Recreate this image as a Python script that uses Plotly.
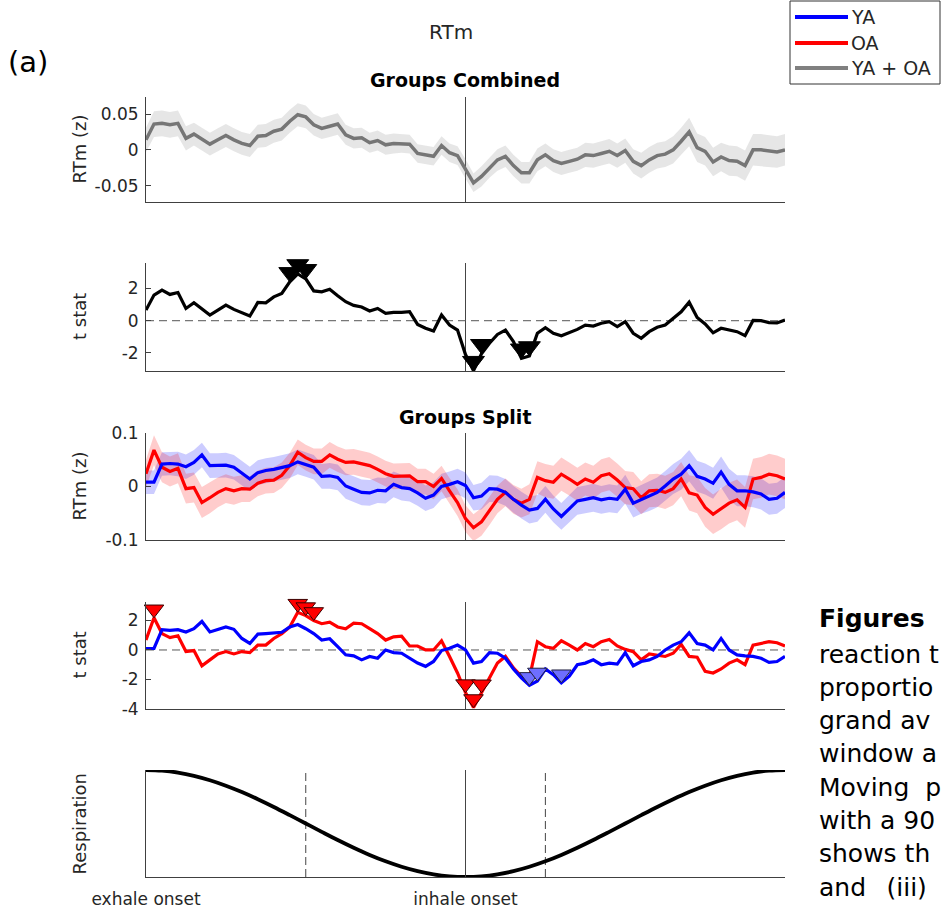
import plotly.graph_objects as go

# ---------------- data ----------------
phase_idx = list(range(81))          # 0 = exhale onset, 40 = inhale onset, 80 = next exhale onset
tick_vals = [0, 40, 80]
tick_text = ["exhale onset", "inhale onset", ""]

comb_mean = [0.014, 0.036, 0.037, 0.035, 0.037, 0.016, 0.022, 0.015, 0.008, 0.014,
             0.020, 0.014, 0.009, 0.006, 0.019, 0.020, 0.026, 0.029, 0.040, 0.049,
             0.046, 0.035, 0.030, 0.033, 0.036, 0.021, 0.016, 0.017, 0.010, 0.013,
             0.007, 0.009, 0.009, 0.008, -0.005, -0.007, -0.009, 0.006, -0.004, -0.008,
             -0.026, -0.046, -0.037, -0.025, -0.014, -0.009, -0.022, -0.032, -0.032, -0.014,
             -0.007, -0.015, -0.019, -0.016, -0.013, -0.007, -0.008, -0.005, -0.002, -0.008,
             -0.001, -0.016, -0.022, -0.014, -0.008, -0.006, 0.000, 0.012, 0.025, 0.003,
             -0.002, -0.017, -0.010, -0.015, -0.016, -0.022, 0.000, 0.000, -0.002, -0.003,
             0.000]
comb_ci = [0.017, 0.018, 0.018, 0.018, 0.018, 0.017, 0.016, 0.016, 0.016, 0.016,
           0.016, 0.016, 0.016, 0.016, 0.016, 0.016, 0.016, 0.016, 0.016, 0.016,
           0.016, 0.015, 0.015, 0.015, 0.015, 0.014, 0.014, 0.014, 0.014, 0.014,
           0.014, 0.014, 0.013, 0.013, 0.013, 0.013, 0.013, 0.013, 0.013, 0.013,
           0.013, 0.013, 0.014, 0.014, 0.015, 0.015, 0.015, 0.015, 0.015, 0.016,
           0.016, 0.016, 0.016, 0.016, 0.016, 0.017, 0.017, 0.017, 0.017, 0.017,
           0.017, 0.017, 0.018, 0.018, 0.018, 0.018, 0.019, 0.019, 0.020, 0.020,
           0.020, 0.020, 0.020, 0.021, 0.021, 0.021, 0.022, 0.022, 0.022, 0.022,
           0.022]
comb_t = [0.66, 1.59, 1.90, 1.63, 1.75, 0.76, 1.11, 0.72, 0.35, 0.66,
          0.97, 0.70, 0.49, 0.29, 1.13, 1.11, 1.48, 1.69, 2.41, 2.90,
          2.60, 1.85, 1.79, 1.95, 1.55, 1.18, 0.95, 0.85, 0.60, 0.76,
          0.45, 0.52, 0.52, 0.56, -0.23, -0.47, -0.64, 0.35, -0.27, -0.58,
          -2.10, -3.10, -2.05, -1.40, -0.85, -0.58, -1.30, -2.33, -2.19, -0.78,
          -0.43, -0.78, -0.93, -0.72, -0.54, -0.27, -0.33, -0.16, -0.06, -0.37,
          -0.06, -0.78, -1.09, -0.68, -0.41, -0.27, 0.15, 0.55, 1.15, 0.20,
          -0.20, -0.75, -0.47, -0.58, -0.68, -0.93, 0.02, 0.00, -0.12, -0.14,
          0.04]
comb_sig = [18, 19, 20, 41, 42, 47, 48]

ya_mean = [0.008, 0.008, 0.042, 0.043, 0.042, 0.037, 0.045, 0.059, 0.039, 0.039,
           0.040, 0.036, 0.025, 0.014, 0.026, 0.030, 0.032, 0.036, 0.039, 0.046,
           0.041, 0.036, 0.019, 0.020, 0.017, 0.001, -0.005, -0.011, -0.012, -0.007,
           -0.008, 0.004, -0.002, -0.004, -0.012, -0.022, -0.016, 0.000, 0.004, 0.009,
           0.002, -0.021, -0.018, -0.004, -0.005, -0.011, -0.024, -0.035, -0.044, -0.041,
           -0.024, -0.042, -0.056, -0.041, -0.027, -0.024, -0.021, -0.025, -0.022, -0.024,
           -0.005, -0.031, -0.024, -0.018, -0.011, 0.001, 0.014, 0.023, 0.039, 0.019,
           0.014, 0.006, 0.027, 0.004, -0.008, -0.008, -0.010, -0.014, -0.024, -0.022,
           -0.011]
ya_ci = [0.022, 0.022, 0.022, 0.022, 0.023, 0.023, 0.023, 0.023, 0.023, 0.023,
         0.023, 0.023, 0.023, 0.023, 0.023, 0.023, 0.023, 0.023, 0.023, 0.023,
         0.023, 0.023, 0.023, 0.024, 0.024, 0.024, 0.024, 0.024, 0.024, 0.024,
         0.024, 0.024, 0.024, 0.024, 0.024, 0.024, 0.024, 0.024, 0.024, 0.024,
         0.024, 0.024, 0.025, 0.025, 0.025, 0.025, 0.025, 0.025, 0.025, 0.025,
         0.025, 0.025, 0.025, 0.026, 0.026, 0.026, 0.026, 0.026, 0.026, 0.026,
         0.027, 0.027, 0.027, 0.028, 0.028, 0.028, 0.028, 0.029, 0.029, 0.029,
         0.029, 0.029, 0.029, 0.029, 0.029, 0.029, 0.029, 0.029, 0.029, 0.029,
         0.029]
ya_t = [0.10, 0.10, 1.38, 1.33, 1.38, 1.22, 1.44, 1.93, 1.22, 1.38,
        1.56, 1.40, 0.78, 0.44, 1.07, 1.11, 1.16, 1.20, 1.56, 1.72,
        1.44, 1.11, 0.67, 0.76, 0.22, -0.33, -0.40, -0.67, -0.44, -0.56,
        0.00, -0.18, -0.22, -0.56, -0.89, -1.11, -0.78, -0.04, 0.11, 0.33,
        0.00, -0.89, -0.78, -0.18, -0.22, -0.56, -1.29, -1.89, -2.40, -2.10,
        -1.29, -1.67, -2.22, -1.78, -1.00, -0.89, -0.67, -1.00, -0.89, -0.96,
        -0.18, -1.07, -0.78, -0.67, -0.44, 0.00, 0.33, 0.56, 1.16, 0.44,
        0.33, 0.00, 0.78, 0.00, -0.33, -0.40, -0.44, -0.56, -0.84, -0.78,
        -0.44]
ya_sig = [48, 49, 52]

oa_mean = [0.024, 0.068, 0.036, 0.028, 0.034, -0.004, -0.002, -0.030, -0.021, -0.011,
           -0.004, -0.008, -0.004, -0.005, 0.006, 0.011, 0.012, 0.021, 0.039, 0.064,
           0.054, 0.047, 0.047, 0.059, 0.051, 0.045, 0.046, 0.042, 0.039, 0.032,
           0.024, 0.019, 0.020, 0.020, 0.009, 0.009, 0.000, 0.015, -0.008, -0.030,
           -0.060, -0.077, -0.066, -0.046, -0.024, -0.011, -0.024, -0.031, -0.024, 0.017,
           0.011, 0.008, 0.023, 0.014, 0.004, 0.014, 0.008, 0.020, 0.024, 0.012,
           -0.002, -0.004, -0.021, -0.008, -0.007, -0.011, -0.004, 0.014, -0.012, -0.016,
           -0.039, -0.052, -0.042, -0.031, -0.025, -0.039, 0.014, 0.017, 0.023, 0.020,
           0.014]
oa_ci = [0.026, 0.028, 0.028, 0.028, 0.028, 0.028, 0.028, 0.029, 0.029, 0.028,
         0.027, 0.026, 0.025, 0.024, 0.024, 0.024, 0.024, 0.024, 0.024, 0.024,
         0.024, 0.024, 0.024, 0.024, 0.024, 0.024, 0.024, 0.024, 0.024, 0.024,
         0.024, 0.024, 0.024, 0.024, 0.024, 0.024, 0.024, 0.024, 0.024, 0.025,
         0.025, 0.025, 0.026, 0.026, 0.026, 0.026, 0.027, 0.027, 0.028, 0.030,
         0.031, 0.031, 0.031, 0.031, 0.031, 0.031, 0.031, 0.031, 0.031, 0.031,
         0.031, 0.031, 0.031, 0.031, 0.031, 0.031, 0.031, 0.032, 0.033, 0.034,
         0.036, 0.037, 0.038, 0.038, 0.038, 0.038, 0.038, 0.038, 0.038, 0.038,
         0.038]
oa_t = [0.67, 2.18, 1.11, 0.84, 0.96, -0.11, -0.04, -1.07, -0.67, -0.27,
        -0.11, -0.27, -0.11, -0.18, 0.33, 0.33, 0.78, 1.11, 1.56, 2.56,
        2.33, 2.00, 1.78, 1.89, 1.56, 1.44, 1.82, 1.78, 1.44, 1.11,
        0.67, 0.89, 0.93, 0.27, 0.27, 0.00, 0.00, 0.62, -0.44, -1.56,
        -2.89, -3.90, -2.90, -1.89, -0.89, -0.44, -1.22, -1.78, -1.89, 0.56,
        0.22, 0.11, 0.62, 0.33, 0.00, 0.44, 0.22, 0.56, 0.71, 0.27,
        0.04, -0.11, -0.67, -0.27, -0.33, -0.44, -0.22, 0.38, -0.44, -0.49,
        -1.44, -1.56, -1.29, -0.89, -0.67, -1.00, 0.33, 0.44, 0.56, 0.49,
        0.27]
oa_sig = [1, 19, 20, 21, 40, 41, 42]

resp_idx = [0, 2, 4, 6, 8, 10, 12, 14, 16, 18, 20, 22, 24, 26, 28, 30, 32, 34, 36, 38, 40,
            42, 44, 46, 48, 50, 52, 54, 56, 58, 60, 62, 64, 66, 68, 70, 72, 74, 76, 78, 80]
resp_val = [1.000, 0.988, 0.951, 0.891, 0.809, 0.707, 0.588, 0.454, 0.309, 0.156, 0.000,
            -0.156, -0.309, -0.454, -0.588, -0.707, -0.809, -0.891, -0.951, -0.988, -1.000,
            -0.988, -0.951, -0.891, -0.809, -0.707, -0.588, -0.454, -0.309, -0.156, 0.000,
            0.156, 0.309, 0.454, 0.588, 0.707, 0.809, 0.891, 0.951, 0.988, 1.000]
resp_dashes = [20, 50]
inhale_onset = 40

# ---------------- layout geometry (pixels) ----------------
W, H = 941, 910
X0, X1 = 146, 785
panels = {1: (97, 202), 2: (263, 371), 3: (433, 540), 4: (602, 709), 5: (770, 877)}
yranges = {1: [-0.0728, 0.0738], 2: [-3.12, 3.58], 3: [-0.1, 0.1], 4: [-4.0, 3.25], 5: [-1, 1]}
yticks = {1: [-0.05, 0, 0.05], 2: [-2, 0, 2], 3: [-0.1, 0, 0.1], 4: [-4, -2, 0, 2], 5: []}
ytext = {1: ["-0.05", "0", "0.05"], 2: ["-2", "0", "2"], 3: ["-0.1", "0", "0.1"],
         4: ["-4", "-2", "0", "2"], 5: []}

FONT = "DejaVu Sans"
AX = "#404040"
TXT = "#262626"

BLUE = "rgb(0,0,255)"
RED = "rgb(255,0,0)"
GRAY = "rgb(118,118,118)"


def ax(k):
    return ("x" if k == 1 else f"x{k}"), ("y" if k == 1 else f"y{k}")


def tip_offset(k, size):
    top, bot = panels[k]
    span = yranges[k][1] - yranges[k][0]
    ppu = (bot - top) / span
    return (size / 2.0) / ppu


fig = go.Figure()


def band(k, mean, ci, color):
    xa, ya = ax(k)
    up = [m + c for m, c in zip(mean, ci)]
    lo = [m - c for m, c in zip(mean, ci)]
    fig.add_trace(go.Scatter(x=phase_idx + phase_idx[::-1], y=up + lo[::-1], fill="toself",
                             fillcolor=color, line=dict(width=0), mode="lines",
                             hoverinfo="skip", showlegend=False, xaxis=xa, yaxis=ya))


def line(k, xs, ys, color, width=3.2, shape="linear"):
    xa, ya = ax(k)
    fig.add_trace(go.Scatter(x=xs, y=ys, mode="lines", line=dict(color=color, width=width, shape=shape),
                             showlegend=False, xaxis=xa, yaxis=ya))


def sig(k, series, idxs, fill, edge, size):
    xa, ya = ax(k)
    off = tip_offset(k, size)
    fig.add_trace(go.Scatter(x=idxs, y=[series[i] + off for i in idxs], mode="markers",
                             marker=dict(symbol="triangle-down", size=size, color=fill,
                                         line=dict(color=edge, width=1)),
                             showlegend=False, cliponaxis=False, xaxis=xa, yaxis=ya))


# panel 1: groups combined mean
band(1, comb_mean, comb_ci, "rgba(128,128,128,0.2)")
line(1, phase_idx, comb_mean, GRAY, width=3.5)
# panel 2: combined t stat
line(2, phase_idx, comb_t, "black")
sig(2, comb_t, comb_sig, "black", "black", 19)
# panel 3: groups split
band(3, ya_mean, ya_ci, "rgba(0,0,255,0.2)")
band(3, oa_mean, oa_ci, "rgba(255,0,0,0.2)")
line(3, phase_idx, oa_mean, RED)
line(3, phase_idx, ya_mean, BLUE)
# panel 4: split t stats
line(4, phase_idx, oa_t, RED)
line(4, phase_idx, ya_t, BLUE)
sig(4, oa_t, oa_sig, RED, "#3a0000", 17)
sig(4, ya_t, ya_sig, "rgb(110,110,255)", "#202040", 17)
# panel 5: respiration
line(5, resp_idx, resp_val, "black", width=3.8, shape="spline")

layout = dict(width=W, height=H, margin=dict(l=0, r=0, t=0, b=0, pad=0, autoexpand=False),
              paper_bgcolor="white", plot_bgcolor="white",
              font=dict(family=FONT, color=TXT, size=17), showlegend=False)

shapes = []
for k in range(1, 6):
    top, bot = panels[k]
    xa, ya = ax(k)
    xkey = "xaxis" if k == 1 else f"xaxis{k}"
    ykey = "yaxis" if k == 1 else f"yaxis{k}"
    layout[xkey] = dict(domain=[X0 / W, X1 / W], range=[0, 80], anchor=ya, automargin=False,
                        showline=True, linecolor=AX, linewidth=1, mirror=False,
                        showgrid=False, zeroline=False,
                        ticks="", showticklabels=False, fixedrange=True)
    layout[ykey] = dict(domain=[1 - bot / H, 1 - top / H], range=yranges[k], anchor=xa,
                        automargin=False,
                        showline=True, linecolor=AX, linewidth=1, mirror=False,
                        showgrid=False, zeroline=False,
                        tickmode="array", tickvals=yticks[k], ticktext=ytext[k],
                        ticks="inside" if yticks[k] else "", ticklen=5, tickcolor=AX,
                        tickfont=dict(size=17, color=TXT, family=FONT),
                        ticklabelstandoff=3,
                        showticklabels=bool(yticks[k]), fixedrange=True)
    shapes.append(dict(type="line", xref=xa, yref=f"{ya} domain", x0=inhale_onset, x1=inhale_onset,
                       y0=0, y1=1, line=dict(color="#454545", width=1), layer="below"))

layout["xaxis5"].update(tickmode="array", tickvals=tick_vals, ticktext=tick_text,
                        ticks="inside", ticklen=5, tickcolor=AX, showticklabels=True,
                        tickfont=dict(size=17, color=TXT, family=FONT), ticklabelstandoff=7)

for k in (2, 4):
    xa, ya = ax(k)
    shapes.append(dict(type="line", xref=f"{xa} domain", yref=ya, x0=0, x1=1, y0=0, y1=0,
                       line=dict(color="#555555", width=1, dash="8px,5px"), layer="below"))
for d in resp_dashes:
    shapes.append(dict(type="line", xref="x5", yref="y5 domain", x0=d, x1=d, y0=0, y1=1,
                       line=dict(color="#454545", width=1, dash="8px,4px"), layer="below"))

# manual legend box (top right)
shapes.append(dict(type="rect", xref="paper", yref="paper", x0=790 / W, x1=940 / W,
                   y0=1 - 84 / H, y1=1 - 1 / H, line=dict(color="#333333", width=1),
                   fillcolor="white", layer="above"))
legend_items = [("YA", BLUE, 17), ("OA", RED, 43), ("YA + OA", "rgb(128,128,128)", 68)]
annotations = []
for name, col, yy in legend_items:
    shapes.append(dict(type="line", xref="paper", yref="paper", x0=795 / W, x1=848 / W,
                       y0=1 - yy / H, y1=1 - yy / H, line=dict(color=col, width=4), layer="above"))
    annotations.append(dict(text=name, xref="paper", yref="paper", x=849 / W, y=1 - yy / H,
                            xanchor="left", yanchor="middle", showarrow=False,
                            font=dict(size=19, color=TXT, family=FONT)))


def txt(t, xp, yp, size, bold=False, angle=0, xanchor="center", color=TXT):
    annotations.append(dict(text=(f"<b>{t}</b>" if bold else t), xref="paper", yref="paper",
                            x=xp / W, y=1 - yp / H, xanchor=xanchor, yanchor="middle",
                            showarrow=False, textangle=angle,
                            font=dict(size=size, color=color, family=FONT)))


txt("(a)", 28, 62, 29, color="black")
txt("RTm", 451, 32, 20)
txt("Groups Combined", 465, 80, 19, bold=True, color="black")
txt("Groups Split", 465, 417, 19, bold=True, color="black")
for k, lab in [(1, "RTm (z)"), (2, "t stat"), (3, "RTm (z)"), (4, "t stat"), (5, "Respiration")]:
    top, bot = panels[k]
    txt(lab, 79, (top + bot) / 2, 18, angle=-90)

# caption text at the right edge (only the part that is visible in the reference)
side_lines = [("<b>Figures</b>", 618), ("reaction t", 654), ("proportio", 687),
              ("grand av", 720), ("window a", 753), ("Moving\u00a0\u00a0p", 787),
              ("with a 90", 820), ("shows th", 853), ("and\u2002 (iii)", 887)]
for t, yy in side_lines:
    annotations.append(dict(text=t, xref="paper", yref="paper", x=817 / W, y=1 - yy / H,
                            xanchor="left", yanchor="middle", showarrow=False,
                            font=dict(size=25, color="black", family=FONT)))

layout["shapes"] = shapes
layout["annotations"] = annotations
fig.update_layout(**layout)
fig.write_html("out.html", post_script="document.body.style.margin='0';")
